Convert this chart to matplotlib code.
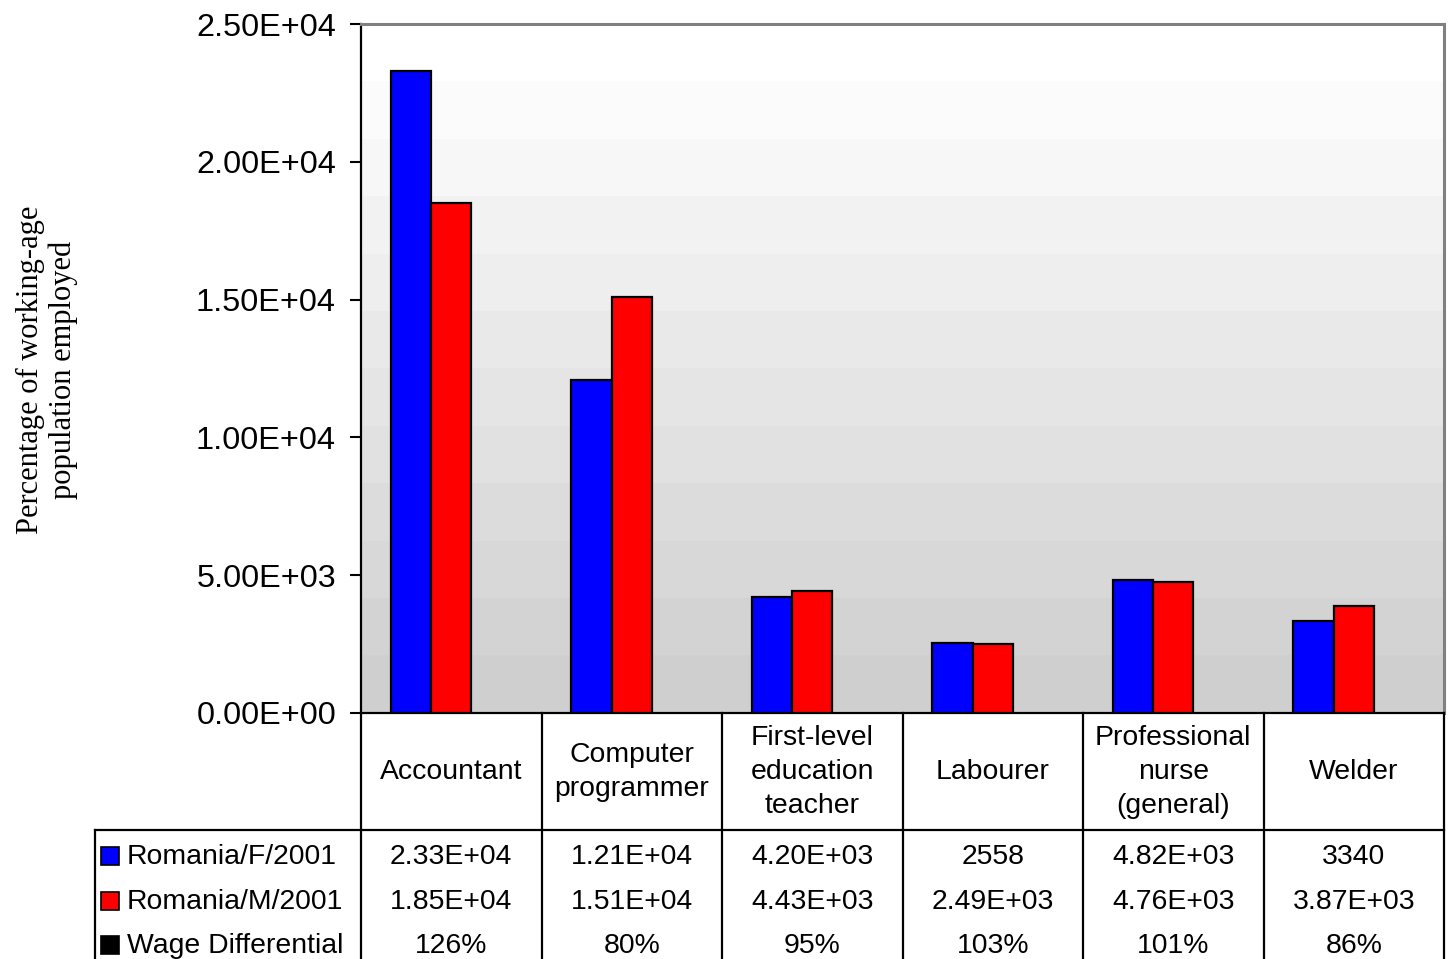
import numpy as np
import matplotlib
matplotlib.use("Agg")
import matplotlib.pyplot as plt
from matplotlib.lines import Line2D
from matplotlib.patches import Rectangle
from matplotlib.transforms import blended_transform_factory

categories = ["Accountant", "Computer\nprogrammer", "First-level\neducation\nteacher",
              "Labourer", "Professional\nnurse\n(general)", "Welder"]
female = [23300, 12100, 4200, 2558, 4820, 3340]
male = [18500, 15100, 4430, 2490, 4760, 3870]
female_labels = ["2.33E+04", "1.21E+04", "4.20E+03", "2558", "4.82E+03", "3340"]
male_labels = ["1.85E+04", "1.51E+04", "4.43E+03", "2.49E+03", "4.76E+03", "3.87E+03"]
wage_labels = ["126%", "80%", "95%", "103%", "101%", "86%"]
series_names = ["Romania/F/2001", "Romania/M/2001", "Wage Differential"]
series_colors = ["#0000ff", "#ff0000", "#000000"]
yticks = [0, 5000, 10000, 15000, 20000, 25000]
ytick_labels = ["0.00E+00", "5.00E+03", "1.00E+04", "1.50E+04", "2.00E+04", "2.50E+04"]

W, H = 1449, 959
fig = plt.figure(figsize=(W / 100, H / 100), dpi=100)
fig.patch.set_facecolor("white")

def fx(x):
    return x / W

def fy(y):
    return 1 - y / H

L, R, T, B = 361, 1444, 24, 713
ax = fig.add_axes([fx(L), fy(B), (R - L) / W, (B - T) / H])
ax.set_xlim(-0.5, len(categories) - 0.5)
ax.set_ylim(0, 25000)

# gradient background
grad = np.linspace(1.0, 0.81, 12).reshape(-1, 1)
ax.imshow(grad, cmap="gray", vmin=0, vmax=1, aspect="auto",
          extent=(-0.5, len(categories) - 0.5, 0, 25000), origin="upper",
          zorder=0, interpolation="nearest")

x = np.arange(len(categories))
w = 0.224
ax.bar(x - w, female, width=w, color=series_colors[0], edgecolor="black", linewidth=1.6, zorder=3)
ax.bar(x, male, width=w, color=series_colors[1], edgecolor="black", linewidth=1.6, zorder=3)

ax.set_xticks([])
ax.set_yticks(yticks)
ax.set_yticklabels(ytick_labels, fontsize=23.3, family="Liberation Sans")
ax.tick_params(axis="y", direction="out", length=8, width=1.5, pad=10)
for s in ["left", "bottom"]:
    ax.spines[s].set_color("black")
    ax.spines[s].set_linewidth(1.6)
for s in ["top", "right"]:
    ax.spines[s].set_color("#808080")
    ax.spines[s].set_linewidth(2.2)

fig.text(fx(47), fy(370), "Percentage of working-age\npopulation employed",
         rotation=90, ha="center", va="center", fontsize=22,
         family="Liberation Serif", linespacing=1.15)

# data table
lc = "black"
lw = 1.6
tab_bottom = 962
def hline(x0, x1, y):
    fig.add_artist(Line2D([fx(x0), fx(x1)], [fy(y), fy(y)], color=lc, lw=lw))
def vline(xp, y0, y1):
    fig.add_artist(Line2D([fx(xp), fx(xp)], [fy(y0), fy(y1)], color=lc, lw=lw))

hline(95, R, 830)
vline(95, 830, tab_bottom)
col_w = (R - L) / len(categories)
for i in range(len(categories) + 1):
    vline(L + i * col_w, B, tab_bottom)

trans = blended_transform_factory(ax.transData, fig.transFigure)
for i, c in enumerate(categories):
    fig.text(x[i], fy(772), c, transform=trans, ha="center", va="center",
             fontsize=20.4, family="Liberation Sans", linespacing=1.38)

row_y = [857, 902, 946]
rows = [female_labels, male_labels, wage_labels]
for r, (yy, labels) in enumerate(zip(row_y, rows)):
    for i, lab in enumerate(labels):
        fig.text(x[i], fy(yy), lab, transform=trans, ha="center", va="center",
                 fontsize=20.4, family="Liberation Sans")
    fig.add_artist(Rectangle((fx(101), fy(yy + 8)), 18 / W, 18 / H,
                             transform=fig.transFigure, facecolor=series_colors[r],
                             edgecolor="black", lw=1.2))
    fig.text(fx(127), fy(yy), series_names[r], ha="left", va="center",
             fontsize=20.4, family="Liberation Sans")

fig.savefig("out.png", dpi=100)
